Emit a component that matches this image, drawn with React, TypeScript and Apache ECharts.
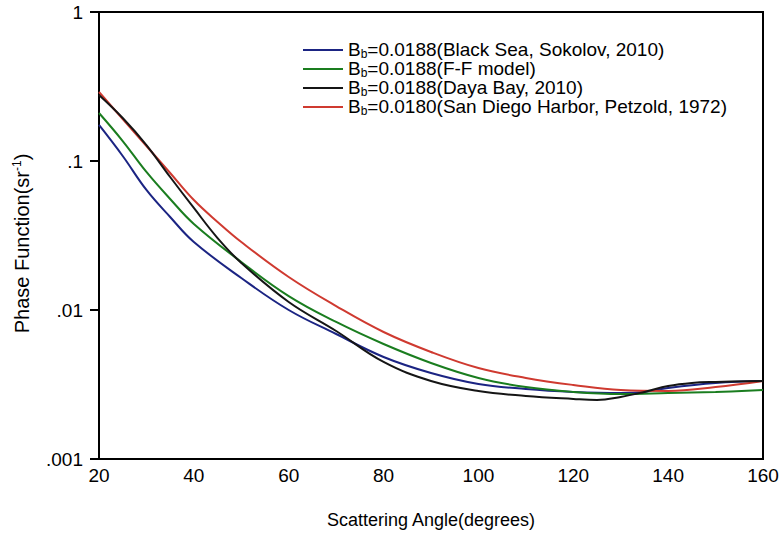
import React, { useEffect, useRef } from "react";
import * as echarts from "echarts";

// Scattering angles (degrees) and phase function values (sr^-1)
const blackSeaAngles = [20, 25, 30, 35, 40, 50, 60, 70, 80, 90, 100, 110, 120, 130, 135, 140, 150, 160];
const blackSeaValues = [0.1745, 0.108, 0.0639, 0.0421, 0.0286, 0.0164, 0.01, 0.0069, 0.00484, 0.00378, 0.00319, 0.00295, 0.00282, 0.00277, 0.00282, 0.003, 0.00324, 0.00334];

const ffAngles = [20, 25, 30, 35, 40, 50, 60, 70, 80, 90, 100, 110, 120, 130, 140, 150, 160];
const ffValues = [0.21, 0.1362, 0.0844, 0.0556, 0.0378, 0.021, 0.0124, 0.00831, 0.00591, 0.00441, 0.0035, 0.00304, 0.00282, 0.00273, 0.00277, 0.00282, 0.0029];

const dayaAngles = [20, 25, 30, 35, 40, 45, 50, 60, 70, 80, 90, 100, 110, 120, 125, 130, 135, 140, 145, 150, 160];
const dayaValues = [0.2773, 0.1943, 0.128, 0.0781, 0.0484, 0.0304, 0.0207, 0.01132, 0.00723, 0.00448, 0.00334, 0.00286, 0.00265, 0.00253, 0.00249, 0.00261, 0.00282, 0.00309, 0.00324, 0.00329, 0.00334];

const sanDiegoAngles = [20, 25, 30, 35, 40, 45, 50, 60, 70, 80, 90, 100, 110, 120, 130, 140, 150, 160];
const sanDiegoValues = [0.2904, 0.1913, 0.1261, 0.0831, 0.0547, 0.039, 0.0286, 0.01666, 0.01063, 0.00712, 0.00523, 0.00408, 0.0035, 0.00314, 0.0029, 0.00286, 0.00304, 0.00334];

const seriesNames = [
  "Bb=0.0188(Black Sea, Sokolov, 2010)",
  "Bb=0.0188(F-F model)",
  "Bb=0.0188(Daya Bay, 2010)",
  "Bb=0.0180(San Diego Harbor, Petzold, 1972)",
];
const seriesColors = ["#1b2483", "#1a7d1f", "#151515", "#cf3a30"];

const xTicks = [20, 40, 60, 80, 100, 120, 140, 160];
const yTickLabels = [".001", ".01", ".1", "1"];

const FONT = "Arial, 'Liberation Sans', Helvetica, sans-serif";

function pairs(xs: number[], ys: number[]) {
  return xs.map((x, i) => [x, ys[i]]);
}

export default function App() {
  const ref = useRef<HTMLDivElement>(null);
  useEffect(() => {
    if (!ref.current) return;
    const chart = echarts.init(ref.current, null, { renderer: "svg" });
    const datasets = [
      pairs(blackSeaAngles, blackSeaValues),
      pairs(ffAngles, ffValues),
      pairs(dayaAngles, dayaValues),
      pairs(sanDiegoAngles, sanDiegoValues),
    ];
    chart.setOption({
      animation: false,
      backgroundColor: "#ffffff",
      grid: {
        left: 99,
        right: 20,
        top: 12,
        bottom: 80,
        show: true,
        borderColor: "#000",
        borderWidth: 2,
        backgroundColor: "transparent",
      },
      legend: {
        orient: "vertical",
        left: 298,
        top: 35,
        itemWidth: 40,
        itemHeight: 2,
        itemGap: -3,
        icon: "rect",
        data: seriesNames,
        formatter: (name: string) => "{m|B}{sub|b}{m|" + name.slice(2) + "}",
        textStyle: {
          fontFamily: FONT,
          fontSize: 19,
          color: "#000",
          rich: {
            m: { fontFamily: FONT, fontSize: 19, lineHeight: 20, padding: [0, 0, 3, 0], verticalAlign: "top", color: "#000" },
            sub: { fontFamily: FONT, fontSize: 12, lineHeight: 12, verticalAlign: "bottom", color: "#000" },
          },
        },
      },
      xAxis: {
        type: "value",
        min: 20,
        max: 160,
        interval: 20,
        name: "Scattering Angle(degrees)",
        nameLocation: "middle",
        nameGap: 52,
        nameTextStyle: { fontFamily: FONT, fontSize: 18, color: "#000" },
        axisLine: { show: true, lineStyle: { color: "#000", width: 2 } },
        axisTick: { show: false },
        splitLine: { show: false },
        axisLabel: {
          fontFamily: FONT,
          fontSize: 19,
          color: "#000",
          margin: 7,
          formatter: (v: number) => (xTicks.includes(v) ? String(v) : ""),
        },
      },
      yAxis: {
        type: "log",
        logBase: 10,
        min: 0.001,
        max: 1,
        name: "{a|Phase Function(sr}{b|-1}{a|)}",
        nameLocation: "middle",
        nameGap: 66,
        nameTextStyle: {
          padding: [0, 16, 0, 0],
          rich: {
            a: { fontFamily: FONT, fontSize: 20, color: "#000" },
            b: { fontFamily: FONT, fontSize: 12, color: "#000", verticalAlign: "top", padding: [0, 0, 10, 0] },
          },
        },
        axisLine: { show: true, lineStyle: { color: "#000", width: 2 } },
        axisTick: { show: true, inside: false, length: 9, lineStyle: { color: "#000", width: 2 } },
        minorTick: { show: false },
        splitLine: { show: false },
        axisLabel: {
          fontFamily: FONT,
          fontSize: 19,
          color: "#000",
          margin: 16,
          formatter: (v: number) => {
            const idx = Math.round(Math.log10(v)) + 3;
            return yTickLabels[idx] ?? "";
          },
        },
      },
      series: datasets.map((d, i) => ({
        name: seriesNames[i],
        type: "line",
        data: d,
        smooth: 0.4,
        symbol: "none",
        showSymbol: false,
        lineStyle: { color: seriesColors[i], width: 2 },
        itemStyle: { color: seriesColors[i] },
        z: i === 2 ? 5 : 3,
      })),
    });
    return () => chart.dispose();
  }, []);
  return (
    <div
      ref={ref}
      style={{ position: "fixed", left: 0, top: 0, width: 783, height: 539, background: "#fff" }}
    />
  );
}
